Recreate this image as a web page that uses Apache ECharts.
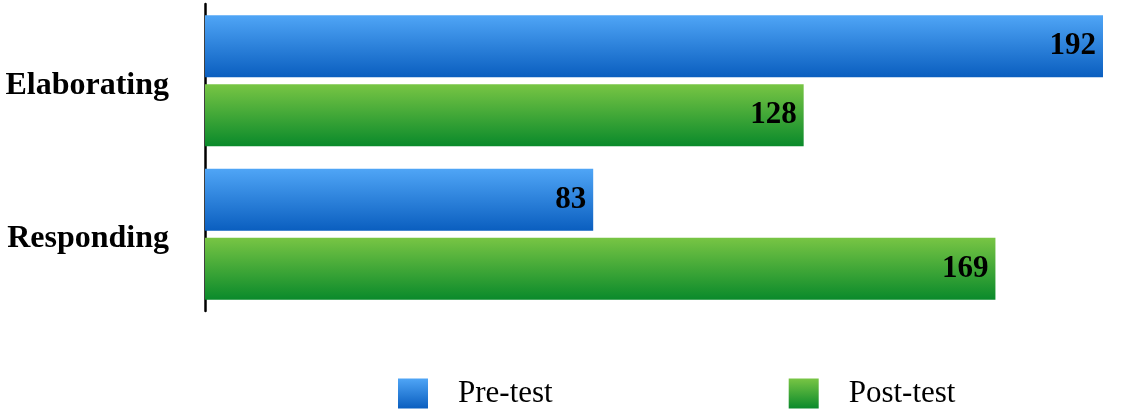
<!DOCTYPE html>
<html>
<head>
<meta charset="utf-8">
<script src="https://cdn.jsdelivr.net/npm/echarts@6/dist/echarts.min.js"></script>
<style>
html,body{margin:0;padding:0;background:#fff;}
#chart{width:1139px;height:410px;}
</style>
</head>
<body>
<div id="chart"></div>
<script>
const categories = ['Elaborating', 'Responding'];
const seriesNames = ['Pre-test', 'Post-test'];
const preTest = [192, 83];
const postTest = [128, 169];

const FONT = "'Liberation Serif', 'Times New Roman', serif";

function grad(top, bottom) {
  return new echarts.graphic.LinearGradient(0, 0, 0, 1, [
    { offset: 0, color: top },
    { offset: 1, color: bottom }
  ]);
}

const blue = grad('#4fa5f6', '#0a5ebf');
const green = grad('#78c544', '#0a8a2b');

const labelStyle = {
  show: true,
  position: 'insideRight',
  distance: 7,
  color: '#000',
  fontFamily: FONT,
  fontWeight: 'bold',
  fontSize: 31
};

const chart = echarts.init(document.getElementById('chart'));
chart.setOption({
  animation: false,
  backgroundColor: '#fff',
  grid: { left: 205, right: 36, top: 4, height: 307, containLabel: false },
  xAxis: {
    type: 'value', min: 0, max: 192, show: false
  },
  yAxis: {
    type: 'category',
    data: categories,
    inverse: true,
    axisLine: { show: true, lineStyle: { color: '#000', width: 2.5 } },
    axisTick: { show: false },
    axisLabel: {
      margin: 36,
      formatter: function (v) { return '{c|' + v + '}'; },
      rich: {
        c: {
          color: '#000', fontFamily: FONT, fontWeight: 'bold', fontSize: 32,
          padding: [9, 0, 0, 0]
        }
      }
    }
  },
  legend: {
    left: 393,
    top: 373,
    itemWidth: 30,
    itemHeight: 30,
    itemGap: 236,
    icon: 'rect',
    textStyle: { color: '#000', fontFamily: FONT, fontSize: 31, padding: [0, 0, 0, 25] },
    data: seriesNames
  },
  series: [
    {
      name: seriesNames[0], type: 'bar', data: preTest,
      barWidth: 62, barGap: '11%',
      itemStyle: { color: blue },
      label: labelStyle
    },
    {
      name: seriesNames[1], type: 'bar', data: postTest,
      barWidth: 62, barGap: '11%',
      itemStyle: { color: green },
      label: labelStyle
    }
  ]
});
</script>
</body>
</html>
